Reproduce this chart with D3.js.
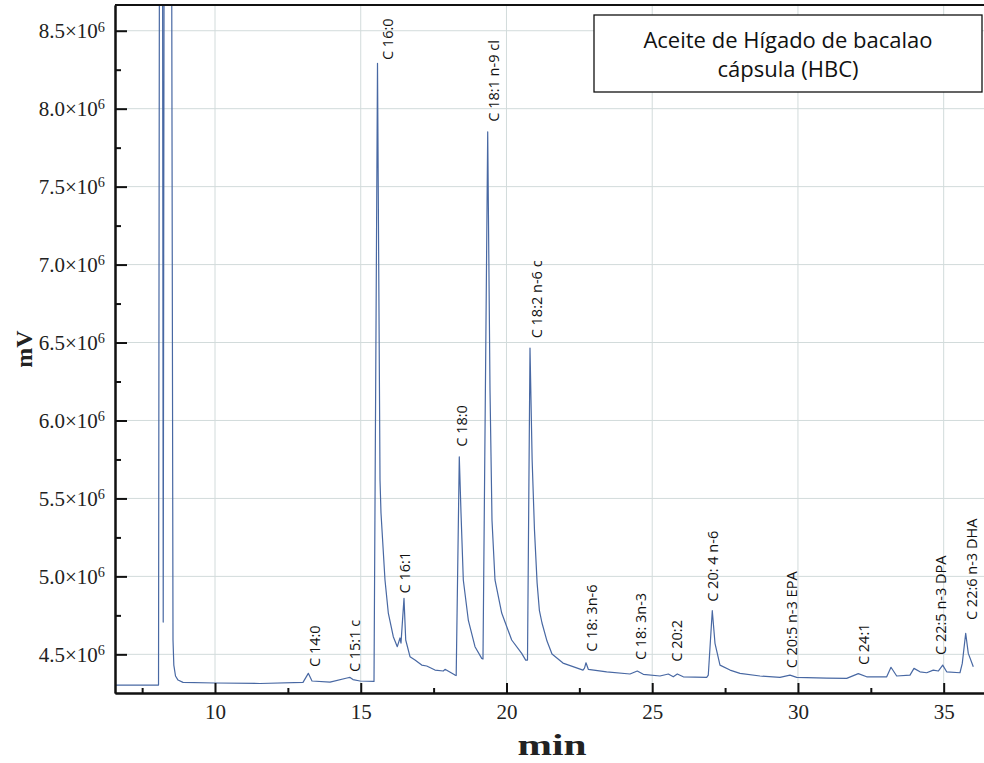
<!DOCTYPE html>
<html>
<head>
<meta charset="utf-8">
<script src="https://cdn.jsdelivr.net/npm/d3@7"></script>
<style>
  body { margin: 0; background: #fff; }
  figure { margin: 0; }
</style>
</head>
<body>
<figure id="chart"></figure>
<script>
// chromatogram trace (min, 10^6 mV)
const times = [6.569, 7.427, 8.062, 8.096, 8.199, 8.223, 8.257, 8.508, 8.559, 8.587, 8.645, 8.731, 8.902,
  10.0, 11.544, 13.019, 13.201, 13.328, 13.945, 14.529, 14.632, 14.734, 14.975, 15.455, 15.575,
  15.661, 15.695, 15.832, 15.946, 16.117, 16.254, 16.347, 16.381, 16.484, 16.543, 16.690, 16.862,
  17.091, 17.263, 17.548, 17.832, 17.891, 18.234, 18.275, 18.381, 18.440, 18.519, 18.690, 18.920,
  19.150, 19.194, 19.356, 19.435, 19.503, 19.606, 19.836, 20.179, 20.522, 20.659, 20.721, 20.807,
  20.880, 20.960, 21.050, 21.130, 21.219, 21.390, 21.562, 21.939, 22.625, 22.677, 22.728, 22.807, 23.438,
  24.238, 24.488, 24.694, 25.267, 25.552, 25.723, 25.860, 26.066, 26.869, 26.924, 27.061, 27.154,
  27.325, 27.669, 28.012, 28.698, 29.384, 29.727, 29.957, 30.986, 31.672, 32.070, 32.358, 33.045,
  33.192, 33.388, 33.844, 33.981, 34.187, 34.417, 34.643, 34.815, 34.966, 35.103, 35.559, 35.638,
  35.755, 35.844, 36.016];
const signal = [4.303, 4.303, 4.303, 9.5, 9.5, 4.707, 9.5, 9.5, 4.592, 4.431, 4.361, 4.335, 4.320,
  4.316, 4.313, 4.320, 4.378, 4.329, 4.322, 4.348, 4.352, 4.338, 4.329, 4.326, 8.291,
  5.618, 5.406, 4.977, 4.765, 4.613, 4.549, 4.605, 4.572, 4.859, 4.592, 4.485, 4.463,
  4.431, 4.425, 4.399, 4.393, 4.404, 4.367, 4.364, 5.767, 5.406, 4.977, 4.720, 4.549,
  4.474, 4.470, 7.852, 6.195, 5.361, 4.977, 4.765, 4.592, 4.506, 4.463, 4.463, 6.465,
  5.750, 5.300, 4.960, 4.780, 4.701, 4.585, 4.502, 4.444, 4.399, 4.412, 4.446, 4.404, 4.388,
  4.374, 4.393, 4.372, 4.361, 4.374, 4.356, 4.374, 4.356, 4.352, 4.367, 4.780, 4.571,
  4.431, 4.399, 4.378, 4.361, 4.352, 4.367, 4.352, 4.348, 4.346, 4.376, 4.356, 4.356,
  4.417, 4.361, 4.367, 4.410, 4.388, 4.382, 4.399, 4.393, 4.431, 4.388, 4.382, 4.442,
  4.635, 4.506, 4.420];

// peak annotations: where each rotated label starts
const peakNames = ["C 14:0", "C 15:1 c", "C 16:0", "C 16:1", "C 18:0", "C 18:1 n-9 cl", "C 18:2 n-6 c",
  "C 18: 3n-6", "C 18: 3n-3", "C 20:2", "C 20: 4 n-6", "C 20:5 n-3 EPA", "C 24:1", "C 22:5 n-3 DPA", "C 22:6 n-3 DHA"];
const peakTimes = [13.431, 14.803, 15.935, 16.518, 18.474, 19.572, 21.047, 22.934, 24.605, 25.850, 27.085,
  29.795, 32.266, 34.897, 35.960];
const peakValues = [4.419, 4.386, 8.312, 4.891, 5.832, 7.916, 6.527, 4.517, 4.463, 4.453, 4.837,
  4.410, 4.431, 4.496, 4.720];

const xTicks = [10, 15, 20, 25, 30, 35];
const xMinorTicks = [7.5, 12.5, 17.5, 22.5, 27.5, 32.5];
const yTicks = [4.5, 5.0, 5.5, 6.0, 6.5, 7.0, 7.5, 8.0, 8.5];
const yMinorTicks = [4.75, 5.25, 5.75, 6.25, 6.75, 7.25, 7.75, 8.25];
const titleLines = ["Aceite de Hígado de bacalao", "cápsula (HBC)"];

const width = 984, height = 763;
const margin = { top: 5, right: -6, bottom: 70, left: 115 };
const plotBottom = height - margin.bottom;
const plotRight = width - margin.right;

const svg = d3.select("figure#chart")
  .append("svg")
  .attr("width", width)
  .attr("height", height);

const x = d3.scaleLinear().domain([6.569, 36.589]).range([margin.left, plotRight]);
const y = d3.scaleLinear().domain([4.252, 8.665]).range([plotBottom, margin.top]);

// grid
const grid = svg.append("g").attr("stroke", "#d2dbdb").attr("stroke-width", 1);
grid.selectAll("line.gx").data(xTicks).enter().append("line")
  .attr("x1", d => x(d)).attr("x2", d => x(d))
  .attr("y1", margin.top).attr("y2", plotBottom);
grid.selectAll("line.gy").data(yTicks).enter().append("line")
  .attr("x1", margin.left).attr("x2", plotRight)
  .attr("y1", d => y(d)).attr("y2", d => y(d));

svg.append("clipPath").attr("id", "plot-clip")
  .append("rect")
  .attr("x", margin.left).attr("y", margin.top)
  .attr("width", plotRight - margin.left).attr("height", plotBottom - margin.top);

// trace
const line = d3.line()
  .x(i => x(times[i]))
  .y(i => y(signal[i]));

svg.append("path")
  .datum(d3.range(times.length))
  .attr("clip-path", "url(#plot-clip)")
  .attr("fill", "none")
  .attr("stroke", "#4868a3")
  .attr("stroke-width", 1.2)
  .attr("stroke-linejoin", "round")
  .attr("d", line);

// peak labels
svg.append("g").selectAll("text")
  .data(peakNames)
  .enter().append("text")
  .attr("transform", (d, i) => `translate(${x(peakTimes[i])},${y(peakValues[i])}) rotate(-90)`)
  .attr("dy", "0.36em")
  .attr("font-family", "'Open Sans', sans-serif")
  .attr("font-size", 14.5)
  .attr("fill", "#111")
  .text(d => d);

// axes
const yAxis = svg.append("g")
  .attr("transform", `translate(${margin.left},0)`)
  .call(d3.axisLeft(y).tickValues(yTicks).tickSizeInner(-12).tickSizeOuter(0).tickPadding(10));
yAxis.selectAll(".tick text").each(function(d) {
  const t = d3.select(this).text(null);
  t.append("tspan").text(d.toFixed(1) + "×10");
  t.append("tspan").attr("dy", "-0.45em").attr("font-size", "0.68em").text("6");
});
svg.append("g")
  .attr("transform", `translate(${margin.left},0)`)
  .call(d3.axisLeft(y).tickValues(yMinorTicks).tickSizeInner(-6).tickSizeOuter(0).tickFormat(""));

svg.append("g")
  .attr("transform", `translate(0,${plotBottom})`)
  .call(d3.axisBottom(x).tickValues(xTicks).tickSizeInner(-10).tickSizeOuter(0).tickPadding(11));
svg.append("g")
  .attr("transform", `translate(0,${plotBottom})`)
  .call(d3.axisBottom(x).tickValues(xMinorTicks).tickSizeInner(-5).tickSizeOuter(0).tickFormat(""));

svg.selectAll(".tick text")
  .attr("font-family", "'Liberation Serif', serif")
  .attr("font-size", 21)
  .attr("fill", "#222");
svg.selectAll(".tick line").attr("stroke", "#111").attr("stroke-width", 2);
svg.selectAll(".domain").attr("stroke", "#111").attr("stroke-width", 2);

// top border
svg.append("line")
  .attr("x1", margin.left).attr("x2", plotRight)
  .attr("y1", margin.top).attr("y2", margin.top)
  .attr("stroke", "#111").attr("stroke-width", 2);

// axis titles
svg.append("text")
  .attr("transform", `translate(32,349) rotate(-90)`)
  .attr("text-anchor", "middle")
  .attr("font-family", "'Liberation Serif', serif")
  .attr("font-weight", "bold")
  .attr("font-size", 24)
  .attr("fill", "#222")
  .text("mV");

svg.append("text")
  .attr("x", 552).attr("y", 755)
  .attr("text-anchor", "middle")
  .attr("font-family", "'Liberation Serif', serif")
  .attr("font-weight", "bold")
  .attr("font-size", 30)
  .attr("textLength", 69)
  .attr("lengthAdjust", "spacingAndGlyphs")
  .attr("fill", "#222")
  .text("min");

// sample name box
const box = svg.append("g");
box.append("rect")
  .attr("x", 594).attr("y", 15)
  .attr("width", 388).attr("height", 77)
  .attr("fill", "#fff")
  .attr("stroke", "#111")
  .attr("stroke-width", 1.3);
box.selectAll("text")
  .data(titleLines)
  .enter().append("text")
  .attr("x", 788)
  .attr("y", (d, i) => 48 + i * 29)
  .attr("text-anchor", "middle")
  .attr("font-family", "'Open Sans', sans-serif")
  .attr("font-size", 22)
  .attr("fill", "#111")
  .text(d => d);
</script>
</body>
</html>
